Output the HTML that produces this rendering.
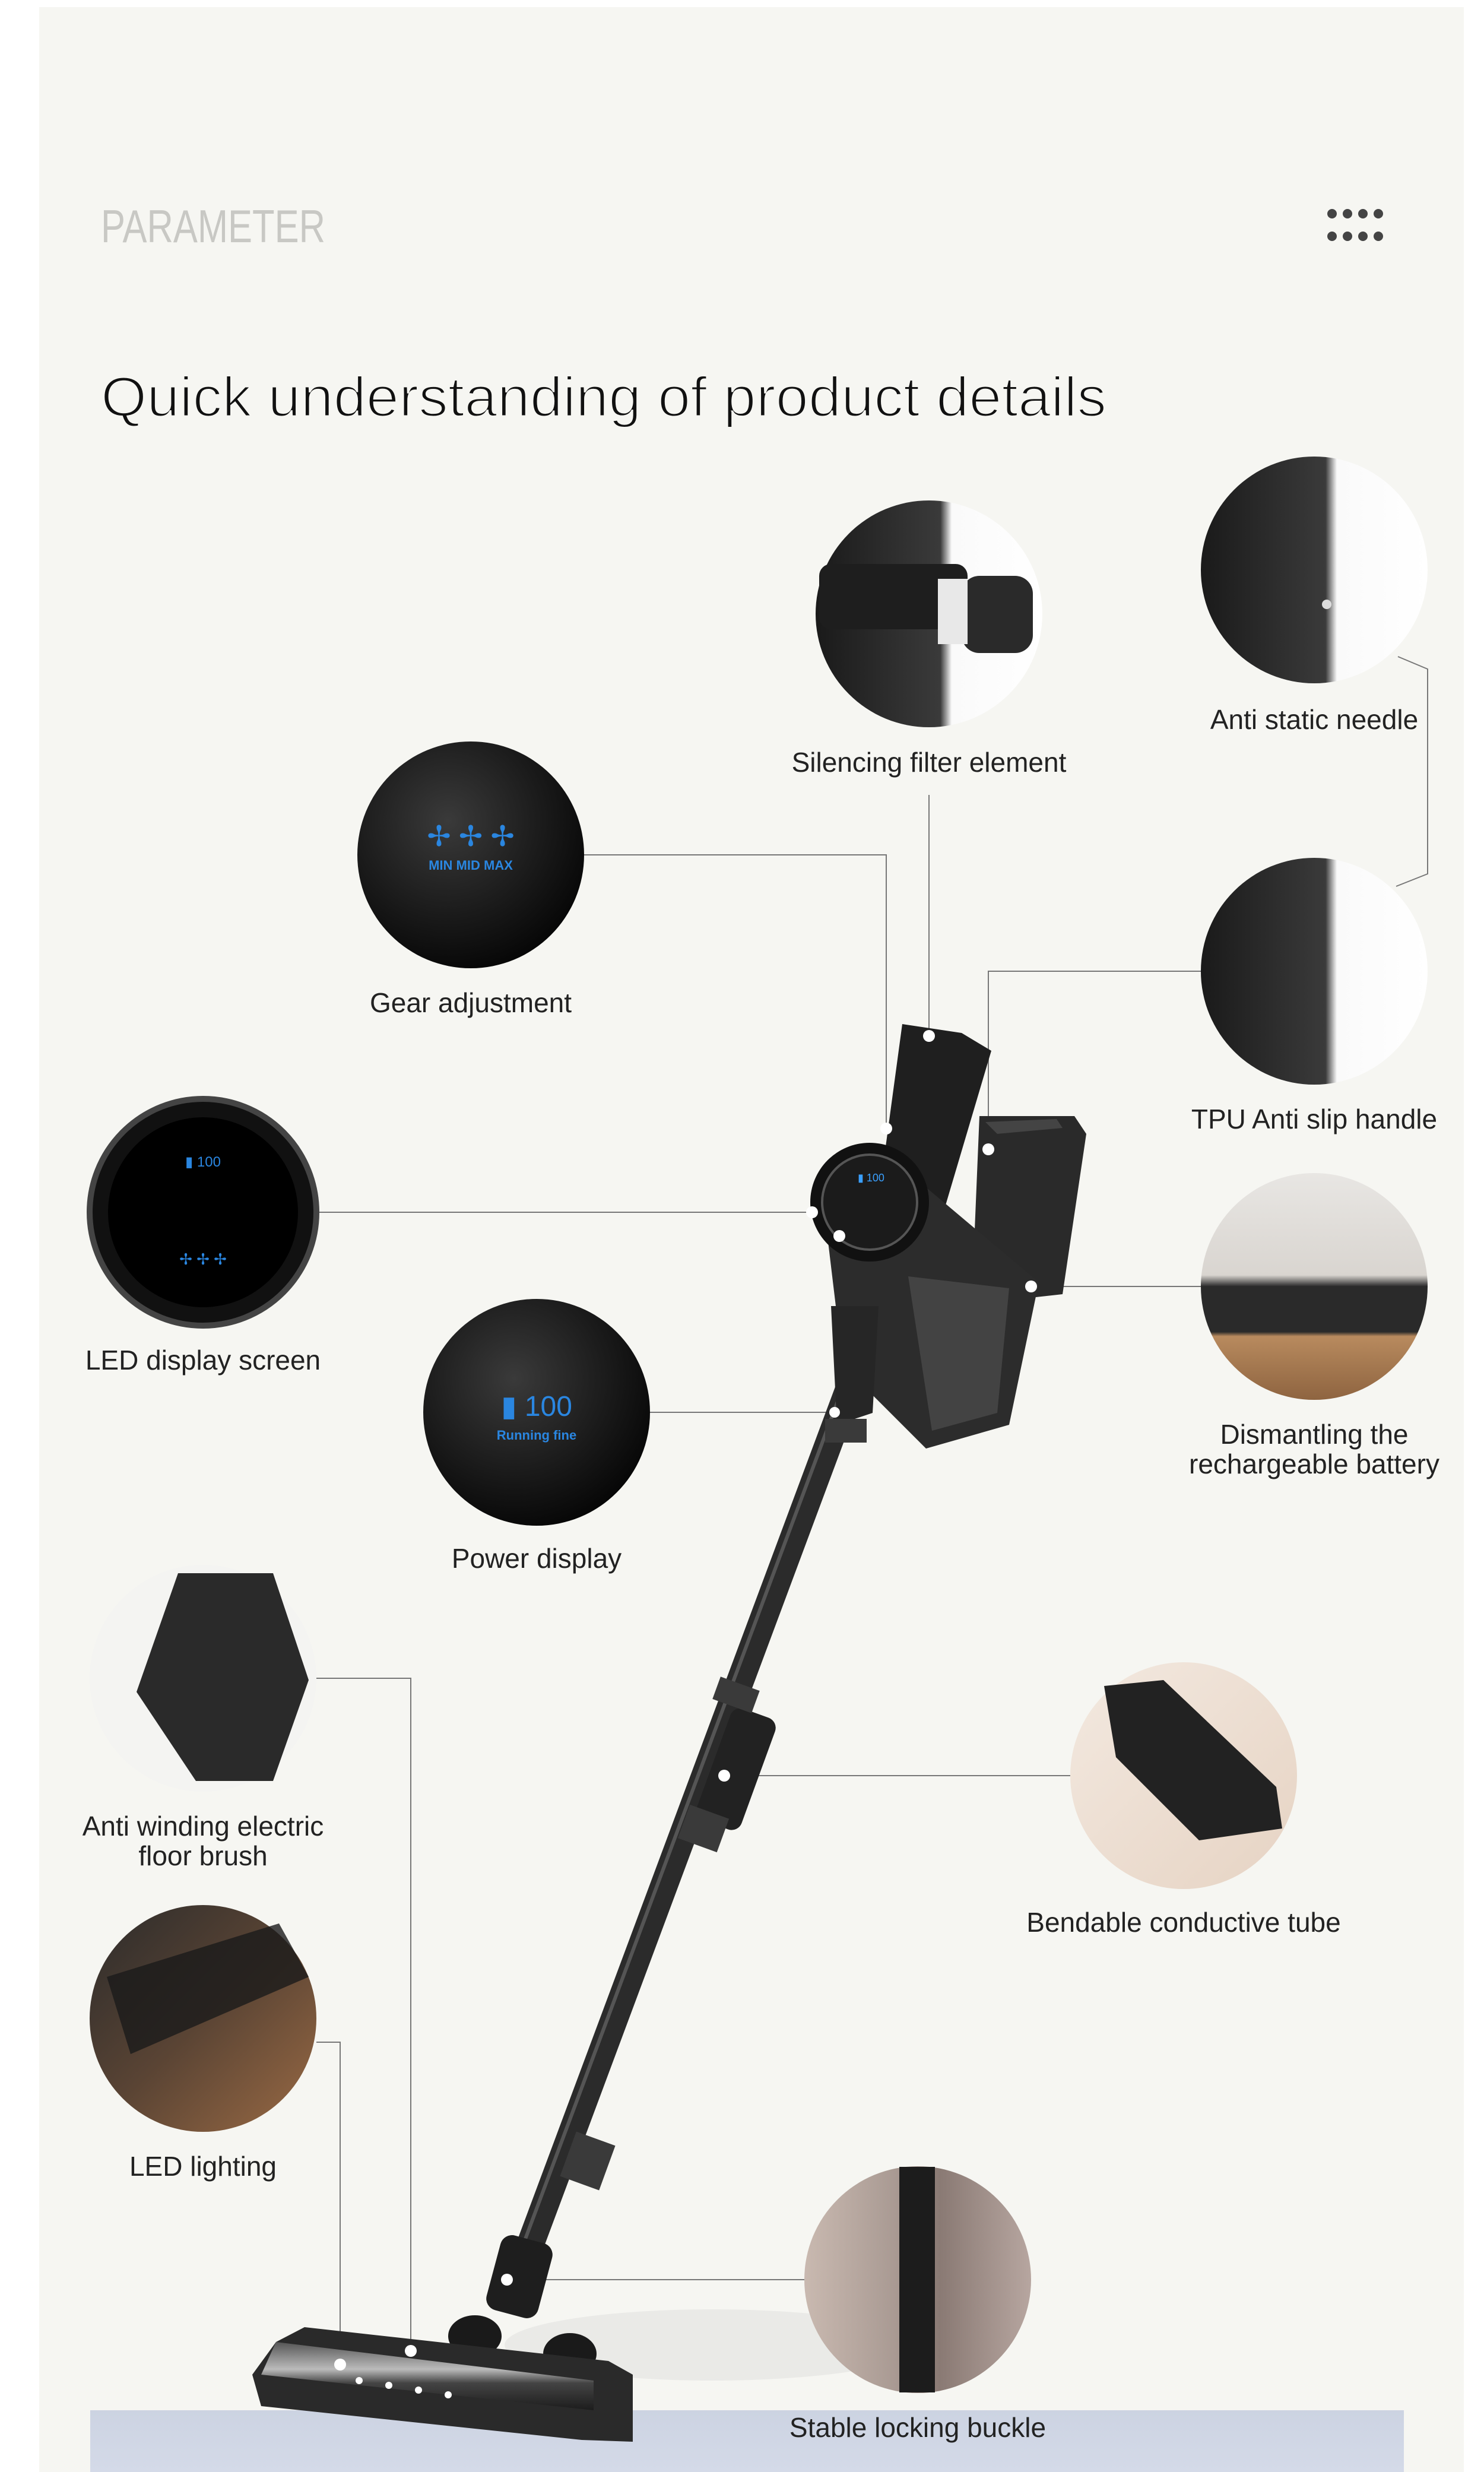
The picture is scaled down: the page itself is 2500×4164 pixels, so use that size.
<!DOCTYPE html>
<html><head><meta charset="utf-8"><style>
html,body{margin:0;padding:0;background:#fff;}
svg{display:block;}
text{font-family:"Liberation Sans",sans-serif;}
</style></head><body>
<svg width="2500" height="4164" viewBox="0 0 2500 4164" xmlns="http://www.w3.org/2000/svg">
<defs>
<radialGradient id="dark" cx="40%" cy="35%" r="70%"><stop offset="0" stop-color="#3a3a3a"/><stop offset="1" stop-color="#050505"/></radialGradient>
<linearGradient id="lightdark" x1="0" y1="0" x2="1" y2="0"><stop offset="0" stop-color="#1a1a1a"/><stop offset="0.55" stop-color="#3a3a3a"/><stop offset="0.6" stop-color="#fafafa"/><stop offset="1" stop-color="#ffffff"/></linearGradient>
<linearGradient id="batt" x1="0" y1="0" x2="0" y2="1"><stop offset="0" stop-color="#e8e6e3"/><stop offset="0.45" stop-color="#d9d5d0"/><stop offset="0.5" stop-color="#2a2a2a"/><stop offset="0.7" stop-color="#2a2a2a"/><stop offset="0.72" stop-color="#b88a5e"/><stop offset="1" stop-color="#8e6440"/></linearGradient>
<linearGradient id="bend" x1="0" y1="0" x2="1" y2="1"><stop offset="0" stop-color="#f3e9e0"/><stop offset="1" stop-color="#e6d3c3"/></linearGradient>
<linearGradient id="brush" x1="0" y1="0" x2="1" y2="1"><stop offset="0" stop-color="#2b2b2b"/><stop offset="0.5" stop-color="#5a4434"/><stop offset="1" stop-color="#9a6a44"/></linearGradient>
<linearGradient id="stable" x1="0" y1="0" x2="1" y2="0"><stop offset="0" stop-color="#c9b9b0"/><stop offset="0.4" stop-color="#a99a93"/><stop offset="0.6" stop-color="#8a7a74"/><stop offset="1" stop-color="#b7a6a0"/></linearGradient>
<linearGradient id="floor" x1="0" y1="0" x2="0" y2="1"><stop offset="0" stop-color="#ccd3e2"/><stop offset="1" stop-color="#d4dae8"/></linearGradient>
<linearGradient id="tubeg" x1="0" y1="0" x2="1" y2="0"><stop offset="0" stop-color="#1a1a1a"/><stop offset="0.5" stop-color="#4a4a4a"/><stop offset="1" stop-color="#1e1e1e"/></linearGradient>
<linearGradient id="headg" x1="0" y1="0" x2="0" y2="1"><stop offset="0" stop-color="#555"/><stop offset="0.4" stop-color="#bbb"/><stop offset="0.6" stop-color="#444"/><stop offset="1" stop-color="#1c1c1c"/></linearGradient>
</defs>
<rect width="2500" height="4164" fill="#ffffff"/>
<rect x="66" y="12" width="2400" height="4152" fill="#f6f6f2"/>
<rect x="152" y="4060" width="2213" height="104" fill="url(#floor)"/>

<!-- header -->
<text x="170" y="408" font-size="78" fill="#c8c8c4" textLength="378" lengthAdjust="spacingAndGlyphs">PARAMETER</text>
<g fill="#444">
<circle cx="2244" cy="360" r="8"/><circle cx="2270" cy="360" r="8"/><circle cx="2296" cy="360" r="8"/><circle cx="2322" cy="360" r="8"/>
<circle cx="2244" cy="398" r="8"/><circle cx="2270" cy="398" r="8"/><circle cx="2296" cy="398" r="8"/><circle cx="2322" cy="398" r="8"/>
</g>
<text x="170" y="701" font-size="95" fill="#111" stroke="#f6f6f2" stroke-width="3" textLength="1694" lengthAdjust="spacingAndGlyphs">Quick understanding of product details</text>

<!-- connector lines -->
<g stroke="#777" stroke-width="2" fill="none">
<polyline points="984,1440 1493,1440 1493,1901"/>
<polyline points="1565,1339 1565,1745"/>
<polyline points="2355,1106 2405,1127 2405,1472 2352,1493"/>
<polyline points="2023,1636 1665,1636 1665,1936"/>
<polyline points="533,2042 1363,2042"/>
<polyline points="2023,2167 1737,2167"/>
<polyline points="1095,2379 1406,2379"/>
<polyline points="1414,2082 1414,2379"/>
<polyline points="533,2827 692,2827 692,3960"/>
<polyline points="1803,2991 1220,2991"/>
<polyline points="533,3440 573,3440 573,3983"/>
<polyline points="1355,3840 854,3840"/>
</g>

<!-- vacuum shadow -->
<ellipse cx="1200" cy="3950" rx="350" ry="60" fill="#e6e6e2" opacity="0.7"/>
<!-- tube -->
<line x1="1445" y1="2300" x2="875" y2="3830" stroke="#2b2b2b" stroke-width="46" stroke-linecap="round"/>
<line x1="1430" y1="2310" x2="865" y2="3825" stroke="#555" stroke-width="6"/>
<rect x="1200" y="2880" width="80" height="200" rx="18" fill="#222" transform="rotate(20 1240 2980)"/>
<rect x="1205" y="2835" width="70" height="40" fill="#3a3a3a" transform="rotate(20 1240 2855)"/>
<rect x="1150" y="3050" width="70" height="60" fill="#3a3a3a" transform="rotate(20 1185 3080)"/>
<rect x="955" y="3600" width="70" height="80" fill="#3a3a3a" transform="rotate(20 990 3640)"/>
<rect x="830" y="3770" width="90" height="130" rx="20" fill="#1e1e1e" transform="rotate(15 875 3835)"/>
<!-- battery -->
<polygon points="1650,1880 1810,1880 1830,1910 1790,2180 1700,2190 1640,2120" fill="#2a2a2a"/>
<polygon points="1660,1890 1780,1885 1790,1900 1680,1910" fill="#444"/>
<!-- handle -->
<polygon points="1520,1725 1620,1740 1670,1770 1590,2040 1480,2020" fill="#1f1f1f"/>
<!-- body / dust cup -->
<polygon points="1390,2050 1560,2000 1750,2160 1700,2400 1560,2440 1420,2300" fill="#2c2c2c"/>
<polygon points="1530,2150 1700,2170 1680,2380 1570,2410" fill="#4a4a4a" opacity="0.8"/>
<circle cx="1465" cy="2025" r="100" fill="#111"/>
<circle cx="1465" cy="2025" r="80" fill="#1b1b1b" stroke="#555" stroke-width="4"/>
<text x="1445" y="1990" font-size="18" fill="#3aa0ff">▮ 100</text>
<polygon points="1400,2200 1480,2200 1470,2380 1410,2400" fill="#262626"/>
<rect x="1390" y="2390" width="70" height="40" fill="#3a3a3a"/>
<!-- floor head -->
<ellipse cx="800" cy="3935" rx="45" ry="35" fill="#1a1a1a"/>
<ellipse cx="960" cy="3965" rx="45" ry="35" fill="#1a1a1a"/>
<polygon points="513,3920 1025,3977 1066,4000 1066,4113 980,4110 440,4053 425,4000 465,3945" fill="#2a2a2a"/>
<polygon points="465,3945 1000,4010 1000,4060 440,4000" fill="url(#headg)"/>
<g fill="#fff"><circle cx="605" cy="4010" r="6"/><circle cx="655" cy="4018" r="6"/><circle cx="705" cy="4026" r="6"/><circle cx="755" cy="4034" r="6"/></g>

<!-- white dots -->
<g fill="#fff">
<circle cx="1565" cy="1745" r="10"/><circle cx="1493" cy="1901" r="10"/><circle cx="1665" cy="1936" r="10"/>
<circle cx="1368" cy="2042" r="10"/><circle cx="1414" cy="2082" r="10"/><circle cx="1737" cy="2167" r="10"/>
<circle cx="1406" cy="2379" r="9"/><circle cx="1220" cy="2991" r="10"/><circle cx="854" cy="3840" r="10"/>
<circle cx="692" cy="3960" r="10"/><circle cx="573" cy="3983" r="10"/>
</g>

<!-- detail circles -->
<circle cx="1565" cy="1034" r="191" fill="url(#lightdark)"/>
<rect x="1380" y="950" width="250" height="110" rx="20" fill="#1e1e1e"/>
<rect x="1620" y="970" width="120" height="130" rx="30" fill="#2a2a2a"/>
<rect x="1580" y="975" width="50" height="110" fill="#e8e8e8"/>
<circle cx="2214" cy="960" r="191" fill="url(#lightdark)"/>
<circle cx="2235" cy="1018" r="8" fill="#ddd"/>
<circle cx="793" cy="1440" r="191" fill="url(#dark)"/>
<text x="793" y="1465" font-size="22" fill="#2a86e0" text-anchor="middle" font-weight="bold">MIN  MID  MAX</text>
<text x="793" y="1425" font-size="48" fill="#2a86e0" text-anchor="middle">✢ ✢ ✢</text>
<circle cx="2214" cy="1636" r="191" fill="url(#lightdark)"/>
<circle cx="342" cy="2042" r="191" fill="#111" stroke="#444" stroke-width="10"/>
<circle cx="342" cy="2042" r="160" fill="#000"/>
<text x="342" y="1965" font-size="24" fill="#2a86e0" text-anchor="middle">▮ 100</text>
<text x="342" y="2130" font-size="26" fill="#2a86e0" text-anchor="middle">✢ ✢ ✢</text>
<circle cx="2214" cy="2167" r="191" fill="url(#batt)"/>
<circle cx="904" cy="2379" r="191" fill="url(#dark)"/>
<text x="904" y="2385" font-size="48" fill="#2a86e0" text-anchor="middle">▮ 100</text>
<text x="904" y="2425" font-size="22" fill="#2a86e0" text-anchor="middle" font-weight="bold">Running fine</text>
<circle cx="342" cy="2827" r="191" fill="#f4f4f2"/>
<polygon points="300,2650 460,2650 520,2830 460,3000 330,3000 230,2850" fill="#2a2a2a"/>
<circle cx="1994" cy="2991" r="191" fill="url(#bend)"/>
<polygon points="1860,2840 1960,2830 2150,3010 2160,3080 2020,3100 1880,2960" fill="#222"/>
<circle cx="342" cy="3400" r="191" fill="url(#brush)"/>
<polygon points="180,3330 470,3240 520,3330 220,3460" fill="#1a1a1a" opacity="0.8"/>
<circle cx="1546" cy="3840" r="191" fill="url(#stable)"/>
<rect x="1515" y="3650" width="60" height="380" fill="#1c1c1c"/>

<!-- labels -->
<g font-size="46" fill="#222" text-anchor="middle">
<text x="1565" y="1300">Silencing filter element</text>
<text x="2214" y="1228">Anti static needle</text>
<text x="793" y="1705">Gear adjustment</text>
<text x="2214" y="1901">TPU Anti slip handle</text>
<text x="342" y="2307">LED display screen</text>
<text x="2214" y="2432">Dismantling the</text>
<text x="2214" y="2482">rechargeable battery</text>
<text x="904" y="2641">Power display</text>
<text x="342" y="3092">Anti winding electric</text>
<text x="342" y="3142">floor brush</text>
<text x="1994" y="3254">Bendable conductive tube</text>
<text x="342" y="3665">LED lighting</text>
<text x="1546" y="4105">Stable locking buckle</text>
</g>
</svg>
</body></html>
